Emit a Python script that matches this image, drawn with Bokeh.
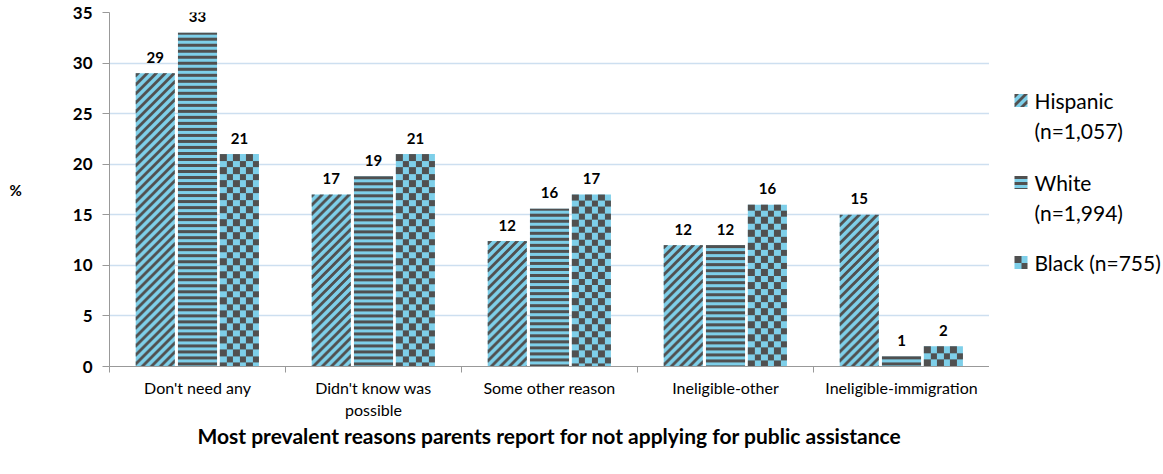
import numpy as np
from bokeh.plotting import figure
from bokeh.layouts import row
from bokeh.models import ColumnDataSource, Range1d, FixedTicker
from bokeh.core.properties import value
from bokeh.embed import file_html
from bokeh.resources import INLINE

# ---- data ----
categories = ["Don't need any", "Didn't know was\npossible", "Some other reason",
              "Ineligible-other", "Ineligible-immigration"]
series_names = ["Hispanic\n(n=1,057)", "White\n(n=1,994)", "Black (n=755)"]
hispanic = [29, 17, 12.4, 12, 15]
white = [33, 18.8, 15.6, 12, 1]
black = [21, 21, 17, 16, 2]
y_ticks = [0, 5, 10, 15, 20, 25, 30, 35]
x_title = "Most prevalent reasons parents report for not applying for public assistance"
y_title = "%"

FONT = "Lato"
BLUE = "#7ecfe9"
DARK_RGBA = (0x50, 0x50, 0x50, 255)
BLUE_RGBA = (0x7e, 0xcf, 0xe9, 255)
patterns = ["diag", "horiz", "checker"]

# layout constants
W_MAIN, H_ALL, W_LEG = 989, 474, 174
B_LEFT, B_TOP, B_BOTTOM = 109, 12, 108
n = len(categories)
Y_MAX = 35
PX_X = (W_MAIN - B_LEFT) / n
PX_Y = (H_ALL - B_TOP - B_BOTTOM) / Y_MAX
BAR_W = 0.222
offsets = [-0.24, 0.0, 0.238]


def pattern_image(kind, w, h, opaque=False):
    """RGBA image (uint32, Bokeh row order: bottom first) of a fill pattern."""
    w, h = max(int(round(w)), 1), max(int(round(h)), 1)
    X, Y = np.meshgrid(np.arange(w), np.arange(h))  # Y measured from the top
    if kind == "diag":
        dark = ((X + Y) % 9) < 4
    elif kind == "horiz":
        dark = (Y % 6) < 3
    else:
        dark = ((np.floor(X / 6.5) + np.floor(Y / 6.5)) % 2) == 0
    img = np.zeros((h, w), dtype=np.uint32)
    v = img.view(dtype=np.uint8).reshape((h, w, 4))
    if opaque:
        v[:, :] = BLUE_RGBA
    v[dark] = DARK_RGBA
    return np.flipud(img).copy()


p = figure(width=W_MAIN, height=H_ALL, output_backend="svg", toolbar_location=None,
           x_range=Range1d(0, n), y_range=Range1d(0, Y_MAX),
           min_border_left=B_LEFT, min_border_right=0, min_border_top=B_TOP,
           min_border_bottom=B_BOTTOM)
p.outline_line_color = None

for k, (vals, off) in enumerate(zip([hispanic, white, black], offsets)):
    xs = [i + 0.5 + off for i in range(n)]
    src = ColumnDataSource(dict(x=xs, top=vals, lab=[str(round(v)) for v in vals],
                                left=[x - BAR_W / 2 for x in xs],
                                img=[pattern_image(patterns[k], BAR_W * PX_X, v * PX_Y) for v in vals]))
    p.vbar(x="x", top="top", width=BAR_W, bottom=0, source=src,
           fill_color=BLUE, line_color=None)
    p.image_rgba(image="img", x="left", y=0, dw=BAR_W, dh="top", source=src)
    p.text(x="x", y="top", text="lab", source=src, text_align="center",
           text_baseline="alphabetic", y_offset=-16, text_font=value(FONT),
           text_font_style="bold", text_font_size="15px", text_color="black")

# axes
p.yaxis.ticker = FixedTicker(ticks=y_ticks)
p.yaxis.major_label_text_font = FONT
p.yaxis.major_label_text_font_style = "bold"
p.yaxis.major_label_text_font_size = "17px"
p.yaxis.major_label_text_color = "black"
p.yaxis.major_label_standoff = 10
p.yaxis.axis_line_color = "#999999"
p.yaxis.major_tick_line_color = "#999999"
p.yaxis.major_tick_out = 7
p.yaxis.major_tick_in = 0
p.yaxis.minor_tick_line_color = None
p.yaxis.axis_label = y_title
p.yaxis.axis_label_text_font = FONT
p.yaxis.axis_label_text_font_style = "bold"
p.yaxis.axis_label_text_font_size = "15px"
p.yaxis.axis_label_text_color = "black"
if "axis_label_orientation" in p.yaxis[0].properties():
    p.yaxis.axis_label_orientation = "horizontal"
    p.yaxis.axis_label_standoff = 48
else:
    p.yaxis.axis_label_standoff = 50

p.xaxis.ticker = FixedTicker(ticks=[i + 0.5 for i in range(n)], minor_ticks=list(range(n + 1)))
p.xaxis.major_label_overrides = {i + 0.5: categories[i] for i in range(n)}
p.xaxis.major_tick_line_color = None
p.xaxis.major_tick_out = 6
p.xaxis.minor_tick_line_color = "#999999"
p.xaxis.minor_tick_out = 6
p.xaxis.minor_tick_in = 0
p.xaxis.axis_line_color = "#999999"
p.xaxis.major_label_text_font = FONT
p.xaxis.major_label_text_font_size = "16px"
p.xaxis.major_label_text_color = "black"
p.xaxis.major_label_standoff = 5
p.xaxis.axis_label = x_title
p.xaxis.axis_label_text_font = FONT
p.xaxis.axis_label_text_font_style = "bold"
p.xaxis.axis_label_text_font_size = "21px"
p.xaxis.axis_label_text_color = "black"
p.xaxis.axis_label_standoff = 1

p.xgrid.grid_line_color = None
p.ygrid.grid_line_color = "#cddff0"
p.ygrid.grid_line_width = 1.5

# legend panel: frame aligned with the main plot; 1 data unit = 1 screen pixel
pl = figure(width=W_LEG, height=H_ALL, output_backend="svg", toolbar_location=None,
            x_range=Range1d(0, W_LEG), y_range=Range1d(B_BOTTOM, H_ALL - B_TOP),
            min_border_left=0, min_border_right=0, min_border_top=B_TOP,
            min_border_bottom=B_BOTTOM, x_axis_location=None, y_axis_location=None)
pl.outline_line_color = None
pl.grid.grid_line_color = None

SW = 13                      # swatch size
sw_x = 25                    # swatch left
txt_x = 45                   # label left
entry_y = [100, 182, 262]    # screen y of each entry's first line
line_gap = 29.5

sw_src = ColumnDataSource(dict(
    img=[pattern_image(patterns[k], SW, SW, opaque=True) for k in range(3)],
    x=[sw_x] * 3, y=[H_ALL - ey - SW / 2 for ey in entry_y]))
pl.image_rgba(image="img", x="x", y="y", dw=SW, dh=SW, source=sw_src)

lx, ly, lt = [], [], []
for k, name in enumerate(series_names):
    for j, line in enumerate(name.split("\n")):
        lx.append(txt_x)
        ly.append(H_ALL - (entry_y[k] + j * line_gap))
        lt.append(line)
pl.text(x=lx, y=ly, text=lt, text_align="left", text_baseline="middle",
        text_font=value(FONT), text_font_size="21px", text_color="black")

layout = row(p, pl, spacing=0)
open("out.html", "w").write(file_html(layout, INLINE))
